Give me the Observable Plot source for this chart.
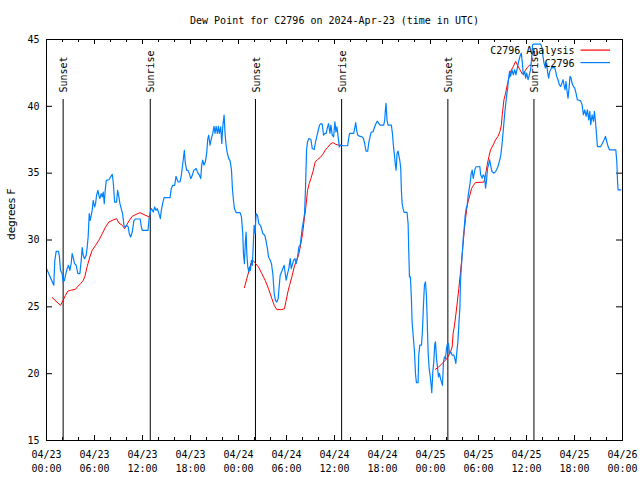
<!DOCTYPE html>
<html>
<head>
<meta charset="utf-8">
<script src="https://cdn.jsdelivr.net/npm/d3@7"></script>
<script src="https://cdn.jsdelivr.net/npm/@observablehq/plot@0.6"></script>
<style>
  html, body { margin: 0; padding: 0; background: #fff; }
</style>
</head>
<body>
<div id="chart"></div>
<script>
// ---- Data (hours after 2024-04-23 00:00 UTC) ----
const titleText = "Dew Point for C2796 on 2024-Apr-23 (time in UTC)";
const yLabel = "degrees F";
const seriesNames = ["C2796 Analysis", "C2796"];
const seriesColors = ["#ff0000", "#0080ff"];

const blueHours = [0,0.91,1.04,1.21,1.50,1.62,1.75,1.96,2.08,2.25,2.37,2.58,2.75,2.92,3.08,3.21,3.33,3.50,3.71,3.92,4.17,4.34,4.46,4.59,4.75,4.96,5.09,5.21,5.34,5.46,5.59,5.71,5.84,6.01,6.13,6.26,6.42,6.55,6.67,6.84,6.97,7.09,7.22,7.34,7.47,7.80,8.01,8.22,8.34,8.43,8.51,8.76,8.89,9.05,9.18,9.34,9.51,9.68,9.80,10.01,10.22,10.35,10.51,10.72,10.93,11.14,11.72,11.85,11.97,12.68,12.85,13.02,13.14,13.35,13.52,13.69,13.85,14.06,14.23,14.35,14.52,14.69,15.44,15.60,15.77,16.02,16.19,16.36,16.48,16.69,16.86,16.98,17.11,17.23,17.36,17.53,17.69,17.86,18.03,18.23,18.40,18.69,18.86,19.11,19.28,19.40,19.53,19.69,19.86,20.03,20.15,20.28,20.44,20.61,20.78,20.94,21.07,21.20,21.36,21.49,21.61,21.78,21.91,22.03,22.20,22.32,22.45,22.61,22.78,22.95,23.12,23.24,23.37,23.49,23.70,24.20,24.37,24.53,24.62,24.74,24.87,24.95,25.04,25.16,25.29,25.37,25.49,25.62,25.74,25.87,25.95,26.08,26.20,26.37,26.54,26.79,27.04,27.29,27.46,27.62,27.75,27.96,28.12,28.29,28.46,28.62,28.79,28.96,29.08,29.21,29.38,29.54,29.71,29.84,29.96,30.13,30.29,30.46,30.59,30.71,30.88,31.05,31.21,31.38,31.55,31.71,31.84,31.96,32.13,32.26,32.38,32.51,32.63,32.80,33.05,33.22,33.47,33.63,33.80,33.97,34.13,34.30,34.47,34.63,34.80,34.97,35.13,35.26,35.43,35.55,35.72,35.89,36.05,36.18,36.30,36.48,36.60,36.77,37.14,37.64,37.77,37.89,38.40,38.52,38.65,38.77,38.90,39.11,39.44,39.61,39.77,39.94,40.15,40.27,40.40,40.57,40.82,41.02,41.19,41.36,41.53,41.69,42.15,42.28,42.36,42.44,42.57,42.69,43.11,43.24,43.36,43.49,43.61,43.70,43.82,43.95,44.03,44.16,44.28,44.36,44.45,44.57,44.70,45.07,45.20,45.28,45.37,45.49,45.62,45.70,45.83,46.00,46.12,46.24,46.45,46.53,46.66,46.87,46.99,47.12,47.24,47.37,47.49,47.58,47.70,47.83,47.95,48.08,48.16,48.29,48.41,48.54,48.62,48.75,48.87,49.00,49.12,49.25,49.37,49.50,49.62,49.75,49.87,50.00,50.12,50.25,50.37,50.54,50.71,50.92,51.04,51.17,51.29,51.42,51.54,51.67,51.75,51.84,51.96,52.09,52.21,52.34,52.46,52.59,52.71,52.84,52.96,53.09,53.21,53.34,53.46,53.59,53.71,54.05,54.17,54.26,54.47,54.59,54.76,54.88,55.01,55.13,55.26,55.39,55.51,55.68,55.93,56.14,56.26,56.43,56.60,56.76,56.89,57.01,57.14,57.26,57.39,57.51,57.64,57.76,57.89,58.01,58.18,58.35,58.52,58.68,58.85,59.02,59.18,59.35,59.48,59.60,59.77,59.89,60.02,60.19,60.35,60.52,60.64,60.77,60.94,61.77,61.94,62.06,62.19,62.36,62.52,62.65,62.77,62.90,63.02,63.19,63.32,63.48,63.65,63.77,63.94,64.11,64.27,64.44,64.57,64.69,64.82,64.94,65.07,65.19,65.32,65.44,65.57,65.69,65.86,66.03,66.19,66.36,66.78,66.95,67.11,67.28,67.45,67.61,67.78,67.91,68.03,68.20,68.37,68.49,68.62,68.74,68.87,69.28,69.49,69.70,69.87,70.03,70.20,70.37,71.16,71.29,71.37,71.45,71.79];
const blueValues = [27.86,26.61,28.48,29.15,29.15,28.73,27.73,27.48,26.86,26.98,27.36,27.86,28.11,27.73,28.23,28.98,28.73,28.23,28.11,27.48,27.48,28.48,29.43,28.85,28.60,28.85,29.48,30.27,31.97,31.47,31.85,32.22,32.97,32.47,32.72,33.34,33.72,33.34,33.09,33.47,33.22,33.59,32.72,33.72,34.46,34.51,34.71,34.91,34.34,33.59,32.84,32.84,33.72,33.22,32.72,32.34,31.97,31.10,30.97,31.10,30.97,30.47,30.22,30.60,31.47,31.57,31.57,30.97,30.72,30.72,31.72,32.22,32.34,32.09,32.47,32.22,32.34,31.97,31.60,32.22,32.72,33.17,33.17,33.84,34.09,34.09,34.76,34.46,34.34,34.34,34.84,35.46,36.08,36.71,35.71,35.21,35.21,34.96,34.59,34.84,35.21,35.35,35.10,34.85,34.60,35.60,35.97,35.60,35.85,36.52,37.52,37.84,37.09,37.59,37.97,38.51,37.97,38.51,37.97,38.51,37.97,38.46,37.22,38.46,39.34,37.97,37.09,36.47,36.09,35.92,35.27,33.85,32.97,32.35,32.05,32.05,31.73,30.48,28.98,28.23,29.98,30.60,28.98,27.98,27.61,27.98,27.73,28.48,28.11,29.98,31.10,30.48,31.98,31.85,31.23,31.03,30.48,30.36,29.86,29.36,28.73,28.48,28.23,27.49,25.99,25.49,25.36,25.61,26.49,27.36,27.61,27.86,28.11,27.49,26.99,27.49,27.86,28.61,27.86,28.11,28.48,28.61,28.23,28.73,29.48,29.61,30.23,30.85,31.48,31.98,33.97,36.77,37.34,37.59,37.52,36.84,36.77,37.34,37.77,38.21,38.59,38.71,38.66,37.84,37.97,37.97,38.46,38.71,37.97,38.59,37.84,37.72,38.84,38.09,38.46,37.60,36.97,37.10,37.05,37.05,37.60,37.97,37.97,38.35,38.79,38.22,37.85,37.77,37.72,37.60,37.22,36.65,36.65,37.22,37.60,38.05,38.10,38.47,38.72,38.90,38.72,38.59,38.59,38.97,39.72,40.22,38.97,38.59,38.59,37.97,37.10,36.35,35.60,35.23,36.47,36.65,36.35,35.97,35.35,33.73,32.73,32.36,32.06,32.06,31.23,29.24,27.24,27.24,25.50,23.87,22.88,21.63,20.01,19.33,19.33,21.38,22.13,22.13,23.13,25.12,26.62,26.87,25.87,24.12,21.63,20.38,19.88,19.13,18.58,20.13,20.88,22.25,22.38,21.13,20.51,19.76,20.01,19.63,19.38,19.13,20.88,21.25,21.13,21.88,22.25,22.25,21.50,21.63,21.38,21.38,21.13,20.76,21.63,22.38,23.63,24.87,26.87,27.87,28.86,30.11,30.86,31.86,32.36,32.61,33.36,33.85,34.30,34.98,35.23,34.60,34.98,35.35,35.48,35.48,35.50,34.88,34.63,34.88,34.75,33.88,34.50,35.37,35.62,36.00,35.62,35.12,35.00,35.12,35.25,35.50,35.87,36.25,36.87,37.62,38.49,39.37,40.12,40.74,41.36,42.11,42.61,42.24,42.74,42.36,42.74,42.36,42.86,43.36,43.73,43.98,43.23,42.36,42.61,42.11,42.49,41.99,42.36,42.74,43.61,44.61,44.66,44.66,44.36,43.73,43.23,42.86,43.23,42.49,42.11,42.61,42.74,42.98,42.86,42.98,42.61,42.24,41.99,41.61,41.49,41.74,41.99,41.61,41.24,41.86,41.11,40.61,41.36,42.24,42.11,41.74,41.49,41.36,40.99,40.49,40.41,40.11,39.37,39.74,39.24,39.74,38.99,39.62,38.62,39.37,38.87,39.62,38.87,37.99,36.99,36.99,37.24,37.50,37.75,37.37,36.99,36.75,36.75,35.87,34.50,33.75,33.75];

// NaN marks a break in the analysis line
const redHours = [0.71,1.75,2.08,2.37,2.67,3.00,3.63,3.84,4.25,4.59,4.80,5.09,5.42,5.71,6.13,6.55,6.97,7.38,7.80,8.22,8.76,9.05,9.47,9.76,10.01,10.30,10.72,11.14,11.68,12.18,12.85,13.0,
  24.74,25.04,25.33,25.54,25.79,26.08,26.50,26.91,27.33,27.75,28.17,28.46,28.79,29.42,29.75,29.96,30.17,30.38,30.67,30.96,31.21,31.51,31.80,32.01,32.21,32.42,32.63,32.84,33.05,33.30,33.59,33.88,34.22,34.55,34.84,35.13,35.47,35.80,36.10,36.51,36.80,36.9,
  48.62,49.04,49.46,49.87,50.17,50.50,50.71,50.83,51.00,51.21,51.38,51.54,51.71,51.88,52.04,52.21,52.38,52.54,52.71,52.92,53.13,53.38,53.63,54.68,54.88,55.09,55.30,55.51,55.84,56.14,56.43,56.68,56.85,56.97,57.18,57.39,57.60,57.81,58.01,58.35,58.64,58.85,59.18,59.48,59.77,60.10,60.44];
const redValues = [25.69,25.11,25.49,25.86,26.18,26.23,26.31,26.48,26.73,26.98,27.28,28.03,28.73,29.23,29.60,29.98,30.47,30.97,31.35,31.47,31.60,31.27,31.10,30.85,31.10,31.42,31.77,31.90,32.05,31.90,31.72,NaN,
  26.44,27.11,27.73,28.23,28.48,28.28,27.98,27.49,26.99,26.36,25.61,25.12,24.79,24.79,24.87,25.49,26.11,26.61,27.24,27.98,28.43,28.86,29.73,30.48,31.48,32.48,33.72,34.22,34.60,35.10,35.84,36.02,36.17,36.42,36.72,36.92,37.17,37.29,37.17,37.09,37.10,NaN,
  20.33,20.51,20.76,21.00,21.25,21.63,22.00,23.00,23.63,24.62,25.50,26.37,27.37,28.37,29.49,30.61,31.61,32.36,32.91,33.36,33.85,34.10,34.30,34.33,34.88,35.62,36.25,36.75,37.12,37.50,37.75,38.12,38.57,39.37,40.49,40.99,41.61,42.11,42.61,42.98,43.36,43.11,42.74,42.41,42.61,42.91,43.11];

const eventNames = ["Sunset","Sunrise","Sunset","Sunrise","Sunset","Sunrise"];
const eventHours = [2.08, 12.97, 26.12, 36.89, 50.17, 60.93];

const yTicks = [15, 20, 25, 30, 35, 40, 45];
const xLabelHours = [0, 6, 12, 18, 24, 30, 36, 42, 48, 54, 60, 66, 72];
const xMinorHours = d3.range(0, 73, 2);

// ---- build ----
const base = Date.UTC(2024, 3, 23);
const toDate = h => new Date(base + h * 3600000);
const blue = blueHours.map((h, i) => ({t: toDate(h), v: blueValues[i]}));
const red = redHours.map((h, i) => ({t: toDate(h), v: redValues[i]}));
const events = eventHours.map((h, i) => ({t: toDate(h), name: eventNames[i]}));
const xLabelTicks = xLabelHours.map(toDate);
const xMinorTicks = xMinorHours.map(toDate);
const fmt = d3.utcFormat("%m/%d\n%H:%M");

const W = 640, H = 480;
const mL = 46, mR = 18, mT = 39, mB = 40;
const innerH = H - mT - mB;
const mono = "DejaVu Sans Mono";

const chart = Plot.plot({
  width: W, height: H,
  marginLeft: mL, marginRight: mR, marginTop: mT, marginBottom: mB,
  style: {fontFamily: mono, fontSize: "10px", background: "#fff", color: "#000"},
  x: {type: "utc", domain: [toDate(0), toDate(72)]},
  y: {domain: [15, 45]},
  marks: [
    // tick marks (inward, gnuplot style)
    Plot.tickX(xMinorTicks, {x: d => d, insetTop: innerH - 3, stroke: "#000"}),
    Plot.tickX(xMinorTicks, {x: d => d, insetBottom: innerH - 3, stroke: "#000"}),
    Plot.tickX(xLabelTicks, {x: d => d, insetTop: innerH - 5, stroke: "#000"}),
    Plot.tickX(xLabelTicks, {x: d => d, insetBottom: innerH - 5, stroke: "#000"}),
    Plot.tickY(yTicks, {y: d => d, insetRight: (W - mL - mR) - 6, stroke: "#000"}),
    Plot.tickY(yTicks, {y: d => d, insetLeft: (W - mL - mR) - 6, stroke: "#000"}),
    // axis labels
    Plot.axisX({ticks: xLabelTicks, tickSize: 0, tickPadding: 8, tickFormat: fmt, lineHeight: 1.4, label: null, fontFamily: mono, fontSize: 10}),
    Plot.axisY({ticks: yTicks, tickSize: 0, tickPadding: 7, label: null, fontFamily: mono, fontSize: 10}),
    Plot.text([yLabel], {frameAnchor: "left", rotate: -90, dx: -35, dy: 0, lineAnchor: "middle", fontFamily: "DejaVu Sans", fontSize: 10.5}),
    // sunrise / sunset
    Plot.ruleX(events, {x: "t", insetTop: 60, stroke: "#000", strokeWidth: 1}),
    Plot.text(events, {x: "t", text: "name", frameAnchor: "top", rotate: -90, textAnchor: "start", lineAnchor: "middle", dy: 53, dx: 1, fontFamily: mono, fontSize: 10}),
    // data
    Plot.line(red, {x: "t", y: "v", stroke: seriesColors[0], strokeWidth: 1}),
    Plot.line(blue, {x: "t", y: "v", stroke: seriesColors[1], strokeWidth: 1.2}),
    // frame
    Plot.frame({stroke: "#000"}),
    // title
    Plot.text([titleText], {frameAnchor: "top", lineAnchor: "middle", dy: -19, fontFamily: mono, fontSize: 10}),
    // legend
    Plot.text([seriesNames[0]], {frameAnchor: "top-right", textAnchor: "end", lineAnchor: "middle", dx: -48, dy: 11.5, fontFamily: mono, fontSize: 10}),
    Plot.text([seriesNames[1]], {frameAnchor: "top-right", textAnchor: "end", lineAnchor: "middle", dx: -48, dy: 24, fontFamily: mono, fontSize: 10}),
    Plot.frame({fill: seriesColors[0], stroke: null, insetLeft: 534, insetRight: 12.5, insetTop: 10, insetBottom: innerH - 11.2}),
    Plot.frame({fill: seriesColors[1], stroke: null, insetLeft: 534, insetRight: 12.5, insetTop: 22.5, insetBottom: innerH - 23.7})
  ]
});
document.getElementById("chart").appendChild(chart);
</script>
</body>
</html>
